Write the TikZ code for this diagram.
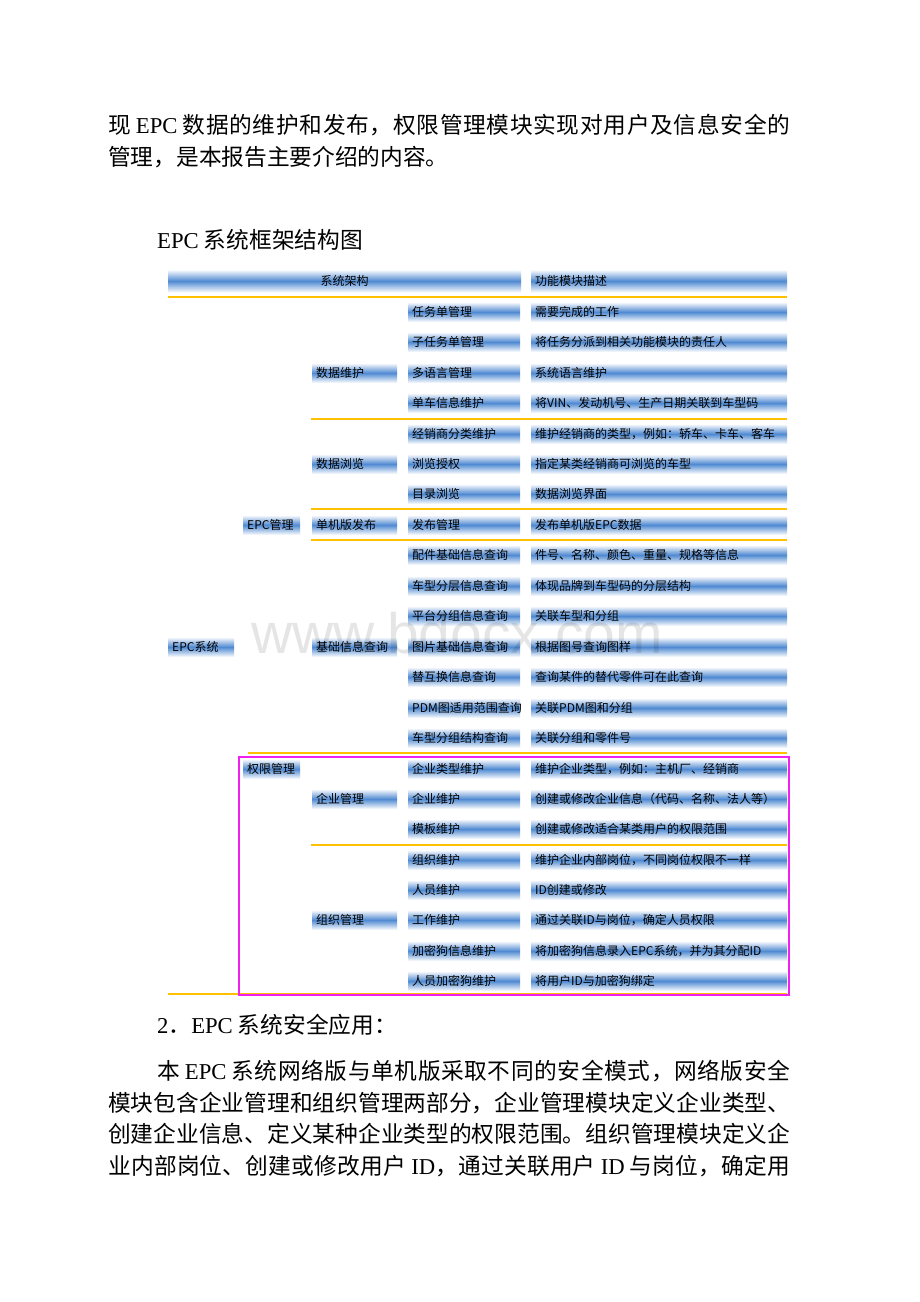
\documentclass[tikz,border=0pt]{standalone}
\usepackage{fontspec}
\setmainfont{Noto Sans CJK SC}
\newfontfamily\latfont{Liberation Serif}
\newfontfamily\wmfont{Liberation Sans}
\newcommand\lat[1]{{\latfont #1}}
% give CJK ideographs and punctuation their own class, to spread lines evenly
\newcount\cjkcnt
\cjkcnt="4E00
\loop
  \XeTeXcharclass\cjkcnt=7
  \advance\cjkcnt by 1
\ifnum\cjkcnt<"A000 \repeat
\XeTeXcharclass"FF0C=7 \XeTeXcharclass"3001=7 \XeTeXcharclass"3002=7
\XeTeXcharclass"FF1A=7 \XeTeXcharclass"FF0E=7
\XeTeXinterchartoks 7 7 = {\hskip 0pt plus 1fil\relax}
\newcommand\bodyfont{\fontsize{22.7}{30}\selectfont\XeTeXinterchartokenstate=1\relax}
\newcommand\barfont{\fontsize{12}{14}\selectfont}
\newcommand\fillbox[2]{\hbox to #1pt{#2\hss}}
\definecolor{barblue}{RGB}{80,138,210}
\definecolor{sepgold}{RGB}{255,192,0}
\definecolor{boxmag}{RGB}{240,32,240}
\tikzset{
  bar/.style={shade, top color=white, bottom color=white, middle color=barblue,
    minimum height=20pt, inner ysep=0pt, inner xsep=4pt, anchor=west,
    font=\barfont, text=black},
  sep/.style={draw=sepgold, line width=2.5pt},
  bodytext/.style={anchor=base west, inner sep=0pt, font=\bodyfont, text=black},
}
\newcommand\epcrow[4]{%
  \node[bar] (ca-#1) at (408,#2) {\fillbox{104}{#3}};
  \node[bar] (cb-#1) at (531,#2) {\fillbox{248}{#4}};}
\begin{document}
\begin{tikzpicture}[x=1pt,y=-1pt]
\useasboundingbox[fill=white] (0,0) rectangle (920,1302);
% body text
\node[bodytext] (p1) at (108,133.5) {\hbox to 682pt{现\ \lat{EPC}\ 数据的维护和发布，权限管理模块实现对用户及信息安全的}};
\node[bodytext] (p2) at (108,165.5) {\XeTeXinterchartokenstate=0 管理，是本报告主要介绍的内容。};
\node[bodytext] (title) at (157,248.5) {\XeTeXinterchartokenstate=0 \lat{EPC}\ 系统框架结构图};
% header
\node[bar, minimum height=23pt] (hl) at (168,281) {\hbox to 345pt{\hss 系统架构\hss}};
\node[bar, minimum height=23pt] (hr) at (531,281) {\fillbox{248}{功能模块描述}};
% rows
\epcrow{1}{312}{任务单管理}{需要完成的工作}
\epcrow{2}{342}{子任务单管理}{将任务分派到相关功能模块的责任人}
\epcrow{3}{373}{多语言管理}{系统语言维护}
\epcrow{4}{403}{单车信息维护}{将VIN、发动机号、生产日期关联到车型码}
\epcrow{5}{434}{经销商分类维护}{维护经销商的类型，例如：轿车、卡车、客车}
\epcrow{6}{464}{浏览授权}{指定某类经销商可浏览的车型}
\epcrow{7}{494}{目录浏览}{数据浏览界面}
\epcrow{8}{525}{发布管理}{发布单机版EPC数据}
\epcrow{9}{555}{配件基础信息查询}{件号、名称、颜色、重量、规格等信息}
\epcrow{10}{586}{车型分层信息查询}{体现品牌到车型码的分层结构}
\epcrow{11}{616}{平台分组信息查询}{关联车型和分组}
\epcrow{12}{647}{图片基础信息查询}{根据图号查询图样}
\epcrow{13}{677}{替互换信息查询}{查询某件的替代零件可在此查询}
\epcrow{14}{708}{PDM图适用范围查询}{关联PDM图和分组}
\epcrow{15}{738}{车型分组结构查询}{关联分组和零件号}
\epcrow{16}{769}{企业类型维护}{维护企业类型，例如：主机厂、经销商}
\epcrow{17}{799}{企业维护}{创建或修改企业信息（代码、名称、法人等）}
\epcrow{18}{829}{模板维护}{创建或修改适合某类用户的权限范围}
\epcrow{19}{860}{组织维护}{维护企业内部岗位，不同岗位权限不一样}
\epcrow{20}{890}{人员维护}{ID创建或修改}
\epcrow{21}{920}{工作维护}{通过关联ID与岗位，确定人员权限}
\epcrow{22}{951}{加密狗信息维护}{将加密狗信息录入EPC系统，并为其分配ID}
\epcrow{23}{981}{人员加密狗维护}{将用户ID与加密狗绑定}
% level 2
\node[bar] (sjwh) at (312,373) {\fillbox{77}{数据维护}};
\node[bar] (sjll) at (312,464) {\fillbox{77}{数据浏览}};
\node[bar] (djb) at (312,525) {\fillbox{77}{单机版发布}};
\node[bar] (jcxx) at (312,647) {\fillbox{77}{基础信息查询}};
\node[bar] (qygl) at (312,799) {\fillbox{77}{企业管理}};
\node[bar] (zzgl) at (312,920) {\fillbox{77}{组织管理}};
% level 1
\node[bar] (epcgl) at (243,525) {\fillbox{49}{EPC管理}};
\node[bar] (qxgl) at (243,769) {\fillbox{49}{权限管理}};
% level 0
\node[bar] (epcxt) at (168,647) {\fillbox{58}{EPC系统}};
% watermark
\node[font=\wmfont\fontsize{57}{60}\selectfont, text=black, opacity=0.1] (wm) at (457,633) {www.bdocx.com};
% separators
\draw[sep] (168,297) -- (787,297);
\draw[sep] (311,419) -- (787,419);
\draw[sep] (311,509) -- (787,509);
\draw[sep] (311,540) -- (787,540);
\draw[sep] (248,753) -- (787,753);
\draw[sep] (311,845) -- (787,845);
\draw[sep] (168,994) -- (787,994);
% highlight box
\draw[draw=boxmag, line width=2pt] (238.5,757) rectangle (789,994.5);
% bottom text
\node[bodytext] (s2) at (157,1033.5) {\XeTeXinterchartokenstate=0 \lat{2}．\lat{EPC}\ 系统安全应用：};
\node[bodytext] (q1) at (157,1079.5) {\hbox to 633pt{本\ \lat{EPC}\ 系统网络版与单机版采取不同的安全模式，网络版安全}};
\node[bodytext] (q2) at (108,1111.5) {\hbox to 682pt{模块包含企业管理和组织管理两部分，企业管理模块定义企业类型、}};
\node[bodytext] (q3) at (108,1142.5) {\hbox to 682pt{创建企业信息、定义某种企业类型的权限范围。组织管理模块定义企}};
\node[bodytext] (q4) at (108,1174.5) {\hbox to 682pt{业内部岗位、创建或修改用户\ \lat{ID}，通过关联用户\ \lat{ID}\ 与岗位，确定用}};
\end{tikzpicture}
\end{document}
